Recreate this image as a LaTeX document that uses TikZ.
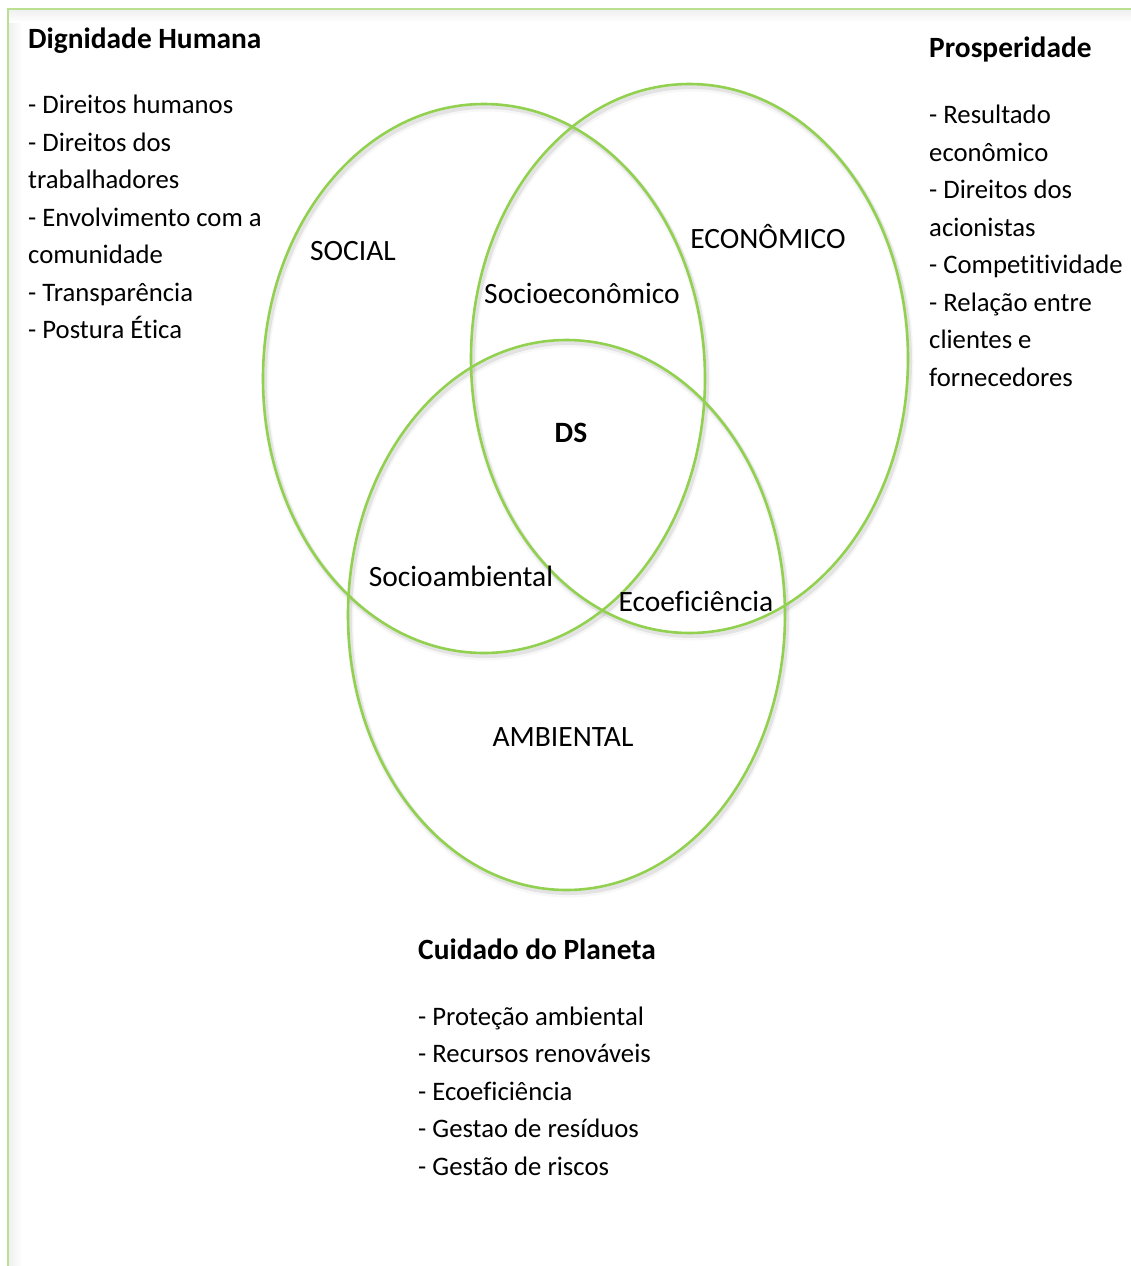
\documentclass[tikz,border=0pt]{standalone}
\usepackage{fontspec}
\setmainfont{Carlito}[Ligatures={CommonOff}]
\usetikzlibrary{shapes.geometric}
\definecolor{venngreen}{RGB}{146,208,80}
\definecolor{framegreen}{RGB}{185,225,145}
\begin{document}
\begin{tikzpicture}[x=1pt,y=-1pt,
  every node/.style={inner sep=0pt, font=\fontsize{26.7pt}{37.5pt}\selectfont},
  txt/.style={anchor=base west},
  lbl/.style={anchor=base, font=\fontsize{29.5pt}{37.5pt}\selectfont},
  head/.style={anchor=base west, font=\fontsize{29.4pt}{37.5pt}\selectfont\bfseries},
  vshadow/.style={draw=black!45, line width=4pt, opacity=0.18},
  vline/.style={draw=venngreen, line width=2.6pt}
]
\useasboundingbox (0,0) rectangle (1131,1266);
% frame with faint inner shadow
\shade[left color=black!6, right color=white] (9,10) rectangle (22,1266);
\shade[top color=black!6, bottom color=white] (9,10) rectangle (1131,22);
\draw[framegreen, line width=2pt] (8,1266) -- (8,9) -- (1131,9);

% shadows
\foreach \cx/\cy/\w/\h in {484/378.5/442/549, 689.5/358.5/437/549, 566.5/615/437/550}{
  \node[ellipse, minimum width=\w pt, minimum height=\h pt, vshadow] at (\cx+2,\cy+3) {};
  \node[ellipse, minimum width=\w pt, minimum height=\h pt, draw=black!45, line width=7pt, opacity=0.07] at (\cx+2,\cy+4) {};
}
% ellipses
\node[ellipse, minimum width=442pt, minimum height=549pt, vline] (social) at (484,378.5) {};
\node[ellipse, minimum width=437pt, minimum height=549pt, vline] (economico) at (689.5,358.5) {};
\node[ellipse, minimum width=437pt, minimum height=550pt, vline] (ambiental) at (566.5,615) {};

% venn labels
\node[lbl] (lsocial) at (353,260) {SOCIAL};
\node[lbl] (leco) at (768,248) {ECONÔMICO};
\node[lbl] (lsocioeco) at (582,303) {Socioeconômico};
\node[lbl, font=\fontsize{29.5pt}{37.5pt}\selectfont\bfseries] (lds) at (571,442) {DS};
\node[lbl] (lsocioamb) at (461,586) {Socioambiental};
\node[lbl] (lecoef) at (696,611) {Ecoeficiência};
\node[lbl] (lamb) at (563,746) {AMBIENTAL};

% Dignidade Humana
\node[head] (dh) at (28,48) {Dignidade Humana};
\foreach \t [count=\i from 0] in {- Direitos humanos, - Direitos dos, trabalhadores, - Envolvimento com a, comunidade, - Transparência, - Postura Ética}{
  \node[txt] (dh\i) at (28,113.5+37.5*\i) {\t};
}
% Prosperidade
\node[head] (pr) at (929,57) {Prosperidade};
\foreach \t [count=\i from 0] in {- Resultado, econômico, - Direitos dos, acionistas, - Competitividade, - Relação entre, clientes e, fornecedores}{
  \node[txt] (pr\i) at (929,123.5+37.5*\i) {\t};
}
% Cuidado do Planeta
\node[head] (cp) at (418,959) {Cuidado do Planeta};
\foreach \t [count=\i from 0] in {- Proteção ambiental, - Recursos renováveis, - Ecoeficiência, - Gestao de resíduos, - Gestão de riscos}{
  \node[txt] (cp\i) at (418,1025+37.5*\i) {\t};
}
\end{tikzpicture}
\end{document}
